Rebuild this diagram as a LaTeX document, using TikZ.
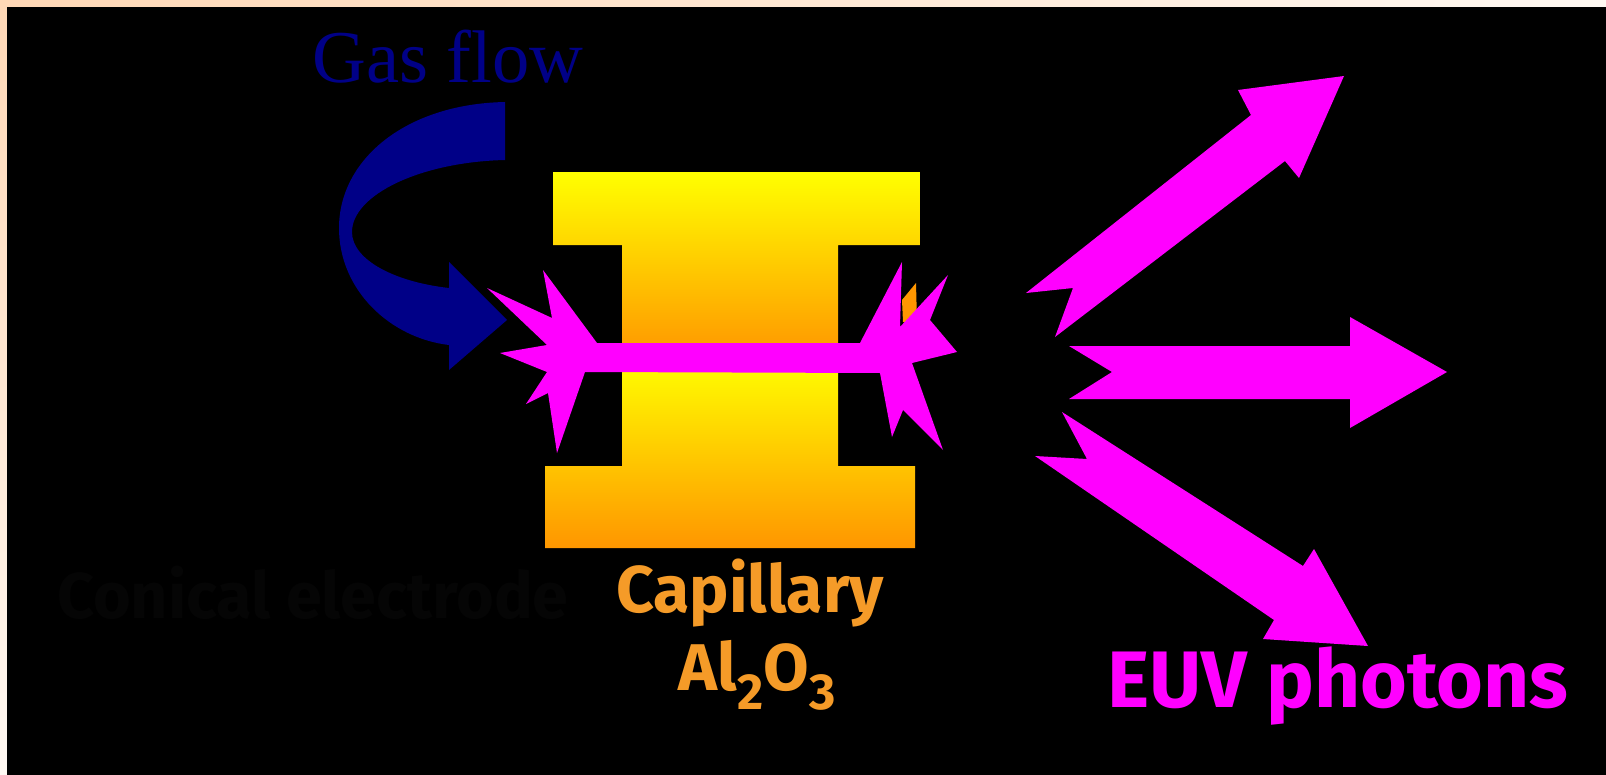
\documentclass[tikz,border=0pt]{standalone}
\usepackage{fontspec}
\setmainfont{Liberation Serif}
\newfontfamily\comicfont{Fira Sans}
\usetikzlibrary{shadings}

\definecolor{peach}{RGB}{255,216,182}
\definecolor{cream}{RGB}{255,249,243}
\definecolor{navyflow}{RGB}{0,0,135}
\definecolor{euvpink}{RGB}{255,0,255}
\definecolor{capyellow}{RGB}{255,255,0}
\definecolor{caporange}{RGB}{255,150,0}
\definecolor{labelorange}{RGB}{245,155,40}
\definecolor{hiddentext}{RGB}{5,5,5}

% subindice grande
\newcommand{\lowsub}[1]{\raisebox{-0.3em}{\fontsize{36}{36}\selectfont #1}}

\begin{document}
\begin{tikzpicture}[x=0.25mm,y=-0.25mm,
    photon/.style={fill=euvpink},
    capblock/.style={top color=capyellow,bottom color=caporange},
    cartoon/.style={font=\comicfont\bfseries\fontsize{#1}{#1}\selectfont,inner sep=0pt}]
    \useasboundingbox (0,0) rectangle (1606,775);

    % Fondo
    \shade[upper left=peach,upper right=cream,lower left=cream,lower right=white] (0,0) rectangle (1606,775);
    \fill[black] (7,7) rectangle (1606,775);

    % Flujo de gas
    \node[anchor=base west,text=navyflow,font=\fontsize{53}{60}\selectfont,inner sep=0pt] (gasflow) at (312,83) {Gas flow};
    \fill[navyflow] (505,102) .. controls (405,104) and (339,160) .. (339,228)
        .. controls (339,290) and (390,338) .. (449,345) -- (449,370) -- (507,320)
        -- (449,262) -- (449,288) .. controls (395,282) and (352,260) .. (352,232)
        .. controls (352,195) and (420,162) .. (505,160) -- cycle;

    % Capilar
    \shade[capblock] (553,172) -- (920,172) -- (920,245) -- (838,245) -- (838,358)
        -- (622,358) -- (622,245) -- (553,245) -- cycle;
    \shade[capblock] (622,358) -- (838,358) -- (838,466) -- (915,466) -- (915,548)
        -- (545,548) -- (545,466) -- (622,466) -- cycle;
    \fill[caporange] (902,300) -- (916,283) -- (917,322) -- (903,322) -- cycle;

    % Descarga
    \fill[photon] (597,343) -- (543,270) -- (552,318) -- (487,288) -- (547,345)
        -- (500,353) -- (547,372) -- (526,404) -- (548,393) -- (557,453) -- (585,372)
        -- (880,373) -- (892,437) -- (903,410) -- (943,450) -- (912,363) -- (957,352)
        -- (930,320) -- (948,275) -- (900,327) -- (902,262) -- (860,343) -- cycle;

    % Fotones
    \fill[photon] (1026,293) -- (1251,115) -- (1238,90) -- (1344,76) -- (1299,178)
        -- (1285,161) -- (1055,337) -- (1073,288) -- cycle;
    \fill[photon] (1069,346) -- (1350,346) -- (1350,317) -- (1447,372) -- (1350,428)
        -- (1350,399) -- (1069,399) -- (1112,372) -- cycle;
    \fill[photon] (1062,412) -- (1303,566) -- (1314,549) -- (1368,646) -- (1263,639)
        -- (1274,620) -- (1035,456) -- (1087,459) -- cycle;

    % Etiquetas
    \node[cartoon=46,text=hiddentext,anchor=base west] (electrode) at (57,618) {Conical electrode};
    \node[cartoon=47,text=labelorange,anchor=base] (capillary) at (750,612) {Capillary};
    \node[cartoon=47,text=labelorange,anchor=base] (alumina) at (757,690) {Al\lowsub{2}O\lowsub{3}};
    \node[cartoon=57,text=euvpink,anchor=base west] (photons) at (1107,707) {EUV photons};
\end{tikzpicture}
\end{document}
